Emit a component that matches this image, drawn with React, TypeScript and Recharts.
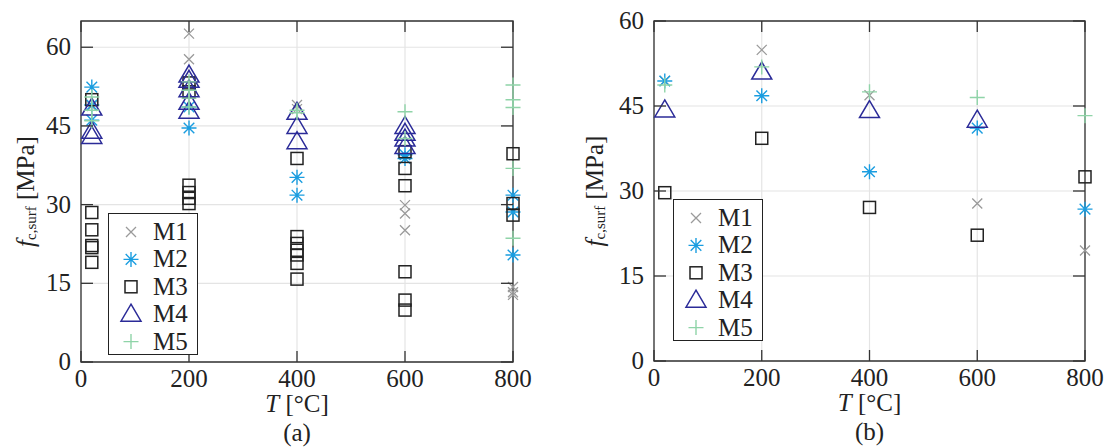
import { ScatterChart, Scatter, XAxis, YAxis, CartesianGrid, ReferenceArea, Legend } from 'recharts';

const names = ['M1', 'M2', 'M3', 'M4', 'M5'];
const colors = ['#9a9a9a', '#1a9de0', '#222222', '#2b2b98', '#8fd4a8'];
const tempTicks = [0, 200, 400, 600, 800];
const fTicks = [0, 15, 30, 45, 60];

// (a) individual specimens: [T, f_c,surf]
const a1 = [[20, 48.8], [200, 62.6], [200, 57.7], [400, 49.0], [400, 48.2], [600, 29.9], [600, 28.3], [600, 25.1], [800, 14.3], [800, 13.3], [800, 12.8]];
const a2 = [[20, 52.4], [20, 49.0], [20, 46.1], [200, 48.6], [200, 44.6], [400, 35.2], [400, 31.8], [600, 39.5], [600, 38.8], [800, 31.8], [800, 28.6], [800, 20.4]];
const a3 = [[20, 50.0], [20, 28.5], [20, 25.2], [20, 22.2], [20, 21.8], [20, 19.0], [200, 53.2], [200, 51.5], [200, 33.7], [200, 32.3], [200, 31.2], [200, 30.2], [400, 38.8], [400, 23.9], [400, 22.6], [400, 21.3], [400, 20.4], [400, 18.8], [400, 15.8], [600, 40.1], [600, 36.9], [600, 33.6], [600, 17.2], [600, 11.8], [600, 9.9], [800, 39.7], [800, 30.2], [800, 28.0]];
const a4 = [[20, 48.4], [20, 44.0], [20, 43.0], [200, 54.7], [200, 53.7], [200, 51.9], [200, 49.5], [200, 47.8], [400, 47.6], [400, 44.9], [400, 42.0], [600, 44.9], [600, 43.6], [600, 42.5], [600, 41.1]];
const a5 = [[20, 50.5], [20, 48.0], [20, 46.0], [200, 53.4], [200, 51.8], [200, 50.3], [200, 48.6], [400, 48.0], [400, 47.5], [600, 47.7], [600, 42.6], [800, 52.8], [800, 50.0], [800, 48.5], [800, 36.9], [800, 23.6]];

// (b) mean values: [T, f_c,surf]
const b1 = [[20, 49.4], [200, 54.9], [400, 46.9], [600, 27.8], [800, 19.5]];
const b2 = [[20, 49.4], [200, 46.8], [400, 33.4], [600, 41.1], [800, 26.8]];
const b3 = [[20, 29.7], [200, 39.3], [400, 27.1], [600, 22.2], [800, 32.5]];
const b4 = [[20, 44.3], [200, 51.0], [400, 44.2], [600, 42.5]];
const b5 = [[20, 48.7], [200, 51.9], [400, 47.5], [600, 46.5], [800, 43.3]];

const toPts = (arr: number[][]) => arr.map(([t, f]) => ({ t, f }));

const FONT = '"Liberation Serif", "Times New Roman", serif';
const W = 553;
const H = 448;
const TOP = 21;

function Marker({ k, cx, cy }: { k: number; cx: number; cy: number }) {
  const c = colors[k];
  if (k === 0)
    return <path d={`M${cx - 5},${cy - 5}L${cx + 5},${cy + 5}M${cx - 5},${cy + 5}L${cx + 5},${cy - 5}`} stroke={c} strokeWidth={1.3} fill="none" />;
  if (k === 1)
    return (
      <path
        d={`M${cx - 7.5},${cy}H${cx + 7.5}M${cx},${cy - 7.5}V${cy + 7.5}M${cx - 5.3},${cy - 5.3}L${cx + 5.3},${cy + 5.3}M${cx - 5.3},${cy + 5.3}L${cx + 5.3},${cy - 5.3}`}
        stroke={c}
        strokeWidth={1.4}
        fill="none"
      />
    );
  if (k === 2) return <rect x={cx - 6} y={cy - 6} width={12} height={12} stroke={c} strokeWidth={1.5} fill="none" />;
  if (k === 3) return <path d={`M${cx},${cy - 10}L${cx + 10},${cy + 7}H${cx - 10}Z`} stroke={c} strokeWidth={1.5} fill="none" />;
  return <path d={`M${cx - 7.5},${cy}H${cx + 7.5}M${cx},${cy - 7.5}V${cy + 7.5}`} stroke={c} strokeWidth={1.4} fill="none" />;
}

function LegendBox() {
  return (
    <svg width={90} height={142} style={{ display: 'block', background: '#fff', border: '1.3px solid #222', boxSizing: 'border-box' }}>
      {names.map((n, i) => {
        const y = 18 + i * 27.4;
        return (
          <g key={n}>
            <Marker k={i} cx={22} cy={y} />
            <text x={44} y={y + 8} fontFamily={FONT} fontSize={25} fill="#222">
              {n}
            </text>
          </g>
        );
      })}
    </svg>
  );
}

type PanelProps = {
  series: number[][][];
  yMax: number;
  plotLeft: number;
  plotRight: number;
  plotBottom: number;
  labelX: number;
  legendLeft: number;
  legendTop: number;
  caption: string;
};

function Panel({ series, yMax, plotLeft, plotRight, plotBottom, labelX, legendLeft, legendTop, caption }: PanelProps) {
  const xTick = (p: any) => (
    <g>
      <line x1={p.x} y1={p.y} x2={p.x} y2={p.y - 11} stroke="#333" strokeWidth={1.3} />
      <line x1={p.x} y1={TOP} x2={p.x} y2={TOP + 11} stroke="#333" strokeWidth={1.3} />
      <text x={p.x} y={p.y + 25} textAnchor="middle" fontFamily={FONT} fontSize={25} fill="#222">
        {p.payload.value}
      </text>
    </g>
  );
  const yTick = (p: any) => (
    <g>
      <line x1={p.x} y1={p.y} x2={p.x + 12} y2={p.y} stroke="#333" strokeWidth={1.3} />
      <line x1={plotRight} y1={p.y} x2={plotRight - 12} y2={p.y} stroke="#333" strokeWidth={1.3} />
      <text x={p.x - 10} y={p.y + 8} textAnchor="end" fontFamily={FONT} fontSize={25} fill="#222">
        {p.payload.value}
      </text>
    </g>
  );
  const yLabel = (p: any) => {
    const cy = p.viewBox.y + p.viewBox.height / 2;
    return (
      <text x={labelX} y={cy} transform={`rotate(-90, ${labelX}, ${cy})`} textAnchor="middle" dominantBaseline="central" fontFamily={FONT} fontSize={25} fill="#222">
        <tspan fontStyle="italic">f</tspan>
        <tspan fontSize={15} dy={6}>c,surf</tspan>
        <tspan dy={-6}> [MPa]</tspan>
      </text>
    );
  };
  const xLabel = (p: any) => {
    const cx = p.viewBox.x + p.viewBox.width / 2;
    const y = p.viewBox.y;
    return (
      <g fontFamily={FONT} fontSize={25} fill="#222">
        <text x={cx} y={y + 50} textAnchor="middle">
          <tspan fontStyle="italic">T</tspan>
          <tspan> [°C]</tspan>
        </text>
        <text x={cx} y={y + 79} textAnchor="middle">
          {caption}
        </text>
      </g>
    );
  };

  return (
    <ScatterChart width={W} height={H} margin={{ top: TOP, left: 0, right: W - plotRight, bottom: H - plotBottom - 30 }}>
      <CartesianGrid stroke="#e4e4e4" strokeWidth={1.2} />
      <XAxis
        dataKey="t"
        type="number"
        domain={[0, 800]}
        ticks={tempTicks}
        height={30}
        axisLine={false}
        tickLine={false}
        tickSize={0}
        tickMargin={0}
        tick={xTick}
        label={{ content: xLabel }}
      />
      <YAxis
        dataKey="f"
        type="number"
        domain={[0, yMax]}
        ticks={fTicks}
        width={plotLeft}
        axisLine={false}
        tickLine={false}
        tickSize={0}
        tickMargin={0}
        tick={yTick}
        label={{ content: yLabel }}
      />
      <ReferenceArea x1={0} x2={800} y1={0} y2={yMax} fill="none" fillOpacity={0} stroke="#333" strokeWidth={1.3} />
      {series.map((s, k) => (
        <Scatter
          key={names[k]}
          name={names[k]}
          data={toPts(s)}
          isAnimationActive={false}
          shape={(p: any) => <Marker k={k} cx={p.cx} cy={p.cy} />}
        />
      ))}
      <Legend
        layout="vertical"
        align="center"
        verticalAlign="middle"
        wrapperStyle={{ left: legendLeft, top: legendTop, width: 90, height: 142 }}
        content={() => <LegendBox />}
      />
    </ScatterChart>
  );
}

export default function App() {
  return (
    <div style={{ position: 'absolute', left: 0, top: 0, width: 1106, height: 448, background: '#fff', display: 'flex' }}>
      <Panel
        series={[a1, a2, a3, a4, a5]}
        yMax={65}
        plotLeft={81}
        plotRight={513}
        plotBottom={362}
        labelX={25}
        legendLeft={108}
        legendTop={213}
        caption="(a)"
      />
      <Panel
        series={[b1, b2, b3, b4, b5]}
        yMax={60}
        plotLeft={101}
        plotRight={532}
        plotBottom={361}
        labelX={41}
        legendLeft={120}
        legendTop={199}
        caption="(b)"
      />
    </div>
  );
}
